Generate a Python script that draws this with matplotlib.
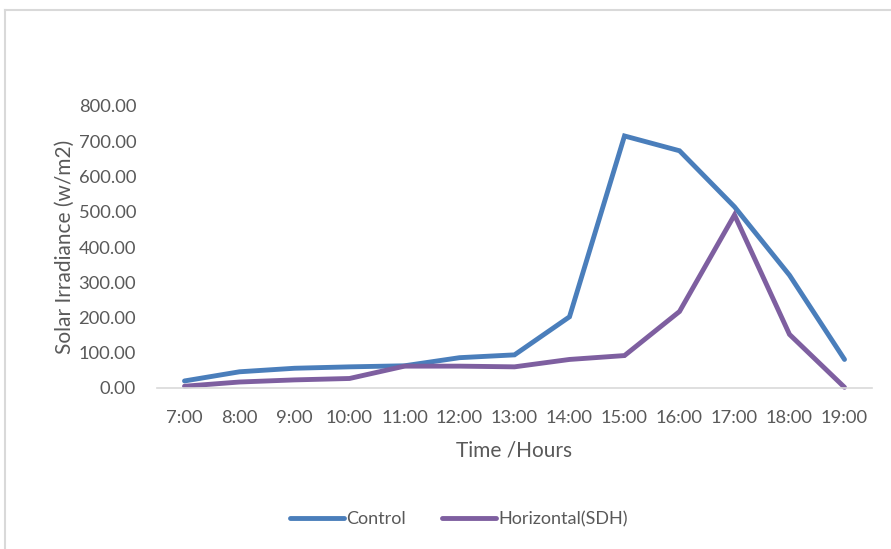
import numpy as np
import matplotlib.pyplot as plt
from matplotlib.lines import Line2D

hours = ['7:00', '8:00', '9:00', '10:00', '11:00', '12:00', '13:00',
         '14:00', '15:00', '16:00', '17:00', '18:00', '19:00']
control = [20, 46, 56, 60, 63, 86, 94, 202, 715, 673, 514, 320, 81]
horizontal = [5, 17, 23, 27, 62, 62, 60, 81, 92, 217, 491, 152, 2]
y_ticks = [0, 100, 200, 300, 400, 500, 600, 700, 800]

plt.rcParams['font.family'] = ['Lato', 'DejaVu Sans']
grey = '#595959'

fig = plt.figure(figsize=(8.91, 5.49), dpi=100)
ax = fig.add_axes([157 / 891, 1 - 388 / 549, 715 / 891, 282 / 549])

x = np.arange(len(hours))
ax.plot(x, control, color='#4a7ebb', linewidth=3.5, solid_capstyle='round',
        solid_joinstyle='miter', label='Control', clip_on=False)
ax.plot(x, horizontal, color='#7e5fa0', linewidth=3.5, solid_capstyle='round',
        solid_joinstyle='miter', label='Horizontal(SDH)', clip_on=False)

ax.set_xlim(-0.5, len(hours) - 0.5)
ax.set_ylim(0, 800)
ax.set_xticks(x)
ax.set_xticklabels(hours)
ax.set_yticks(y_ticks)
ax.set_yticklabels(['%.2f' % v for v in y_ticks])
ax.tick_params(axis='both', length=0, labelsize=13.2, colors=grey)
ax.tick_params(axis='x', pad=16)
ax.tick_params(axis='y', pad=15)
for s in ['top', 'right', 'left']:
    ax.spines[s].set_visible(False)
ax.spines['bottom'].set_color('#d9d9d9')
ax.spines['bottom'].set_linewidth(1.2)

ax.set_ylabel('Solar Irradiance (w/m2)', fontsize=15, color=grey, labelpad=3)
ax.set_xlabel('Time /Hours', fontsize=15, color=grey, labelpad=10)

handles = [Line2D([0], [0], color='#4a7ebb', lw=3.5, solid_capstyle='round'),
           Line2D([0], [0], color='#7e5fa0', lw=3.5, solid_capstyle='round')]
fig.legend(handles, ['Control', 'Horizontal(SDH)'], loc='center',
           bbox_to_anchor=(0.515, 1 - 519 / 549), ncol=2, frameon=False,
           fontsize=13, labelcolor=grey, handlelength=3.0, handletextpad=0.1,
           columnspacing=2.0)

# chart frame (only top and left edges visible in the crop)
fig.add_artist(Line2D([5 / 891, 1], [1 - 10 / 549, 1 - 10 / 549],
                      transform=fig.transFigure, color='#d9d9d9', lw=1.5))
fig.add_artist(Line2D([5 / 891, 5 / 891], [0, 1 - 10 / 549],
                      transform=fig.transFigure, color='#d9d9d9', lw=1.5))

fig.savefig('out.png', dpi=100)
